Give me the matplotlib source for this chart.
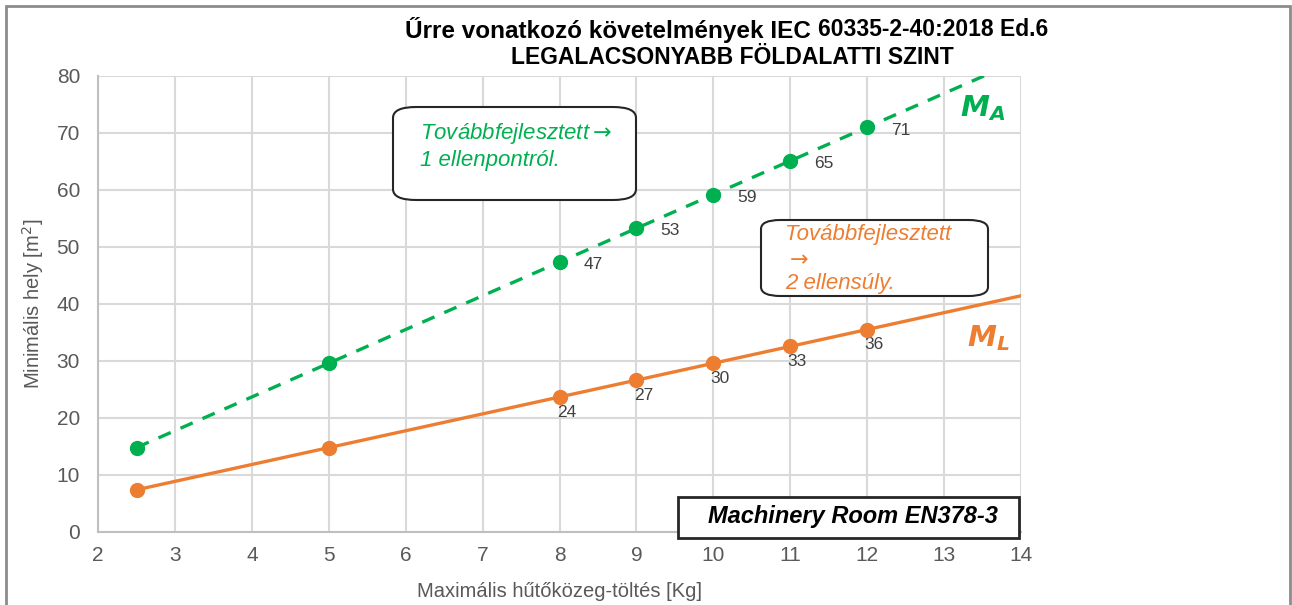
import numpy as np
import matplotlib
matplotlib.use("Agg")
import matplotlib.pyplot as plt
from matplotlib.patches import FancyBboxPatch, Rectangle

plt.rcParams['font.family'] = ['Liberation Sans', 'DejaVu Sans']

# charge [kg] and minimum room area [m2]
charge = [2.5, 5, 8, 9, 10, 11, 12]
area_ma = [14.8, 29.6, 47.4, 53.3, 59.2, 65.1, 71.0]   # M_A, dashed green
area_ml = [7.4, 14.8, 23.7, 26.6, 29.6, 32.6, 35.5]    # M_L, solid orange
labeled = [8, 9, 10, 11, 12]
xticks = list(range(2, 15))
yticks = list(range(0, 90, 10))

green = '#00B050'
orange = '#ED7D31'
gray_txt = '#595959'

fig = plt.figure(figsize=(12.92, 6.05), dpi=100)
ax = fig.add_axes([0.0759, 0.1207, 0.7144, 0.7537])

# trend lines extended to the end of the axis
x_ext = np.array([charge[0], 14])
pa = np.polyfit(charge, area_ma, 1)
pl = np.polyfit(charge, area_ml, 1)
ax.plot(x_ext, np.polyval(pa, x_ext), color=green, lw=2.4, ls=(0, (4, 3.2)), zorder=3)
ax.plot(x_ext, np.polyval(pl, x_ext), color=orange, lw=2.4, zorder=3)
ax.plot(charge, area_ma, 'o', color=green, ms=10, zorder=4)
ax.plot(charge, area_ml, 'o', color=orange, ms=10, zorder=4)

for x, ya, yl in zip(charge, area_ma, area_ml):
    if x in labeled:
        ax.annotate(f'{ya:.0f}', (x, ya), xytext=(24, -2), textcoords='offset points',
                    fontsize=12.5, color='#404040', va='center', ha='center')
        ax.annotate(f'{yl:.0f}', (x, yl), xytext=(5, -11), textcoords='offset points',
                    fontsize=12.5, color='#404040', va='center', ha='center')

ax.set_xlim(2, 14)
ax.set_ylim(0, 80)
ax.set_xticks(xticks)
ax.set_yticks(yticks)
ax.grid(True, color='#d9d9d9', lw=1.5)
ax.set_axisbelow(True)
for s in ['top', 'right']:
    ax.spines[s].set_visible(False)
for s in ['left', 'bottom']:
    ax.spines[s].set_color('#bfbfbf')
    ax.spines[s].set_linewidth(1.5)
ax.tick_params(length=0, labelsize=15, labelcolor=gray_txt)
ax.tick_params(axis='x', pad=10)
ax.tick_params(axis='y', pad=13)
ax.set_xlabel('Maximális hűtőközeg-töltés [Kg]', fontsize=14.5, color=gray_txt, labelpad=12)
ax.set_ylabel('Minimális hely [m$^2$]', fontsize=14.5, color=gray_txt, labelpad=8)

# title
split = 818 / 1292
fig.text(split, 1 - 30 / 605, 'Űrre vonatkozó követelmények IEC ', fontsize=17.5, fontweight='bold',
         ha='right', va='center')
fig.text(split, 1 - 30 / 605, '60335-2-40:2018 Ed.6', fontsize=16.5, fontweight='bold',
         ha='left', va='center')
fig.text(732 / 1292, 1 - 57 / 605, 'LEGALACSONYABB FÖLDALATTI SZINT', fontsize=16.5,
         fontweight='bold', ha='center', va='center')

# annotation boxes
b1 = FancyBboxPatch((393 / 1292, 1 - 200 / 605), 243 / 1292, 93 / 605,
                    boxstyle='round,pad=0,rounding_size=0.018', transform=fig.transFigure,
                    fc='white', ec='#262626', lw=1.5, zorder=5)
fig.add_artist(b1)
fig.text(420 / 1292, 1 - 146 / 605, 'Továbbfejlesztett$\\rightarrow$\n1 ellenpontról.', color=green,
         fontsize=16, style='italic', va='center', ha='left', linespacing=1.2, zorder=6)

b2 = FancyBboxPatch((761 / 1292, 1 - 296 / 605), 227 / 1292, 76 / 605,
                    boxstyle='round,pad=0,rounding_size=0.015', transform=fig.transFigure,
                    fc='white', ec='#262626', lw=1.5, zorder=5)
fig.add_artist(b2)
fig.text(785 / 1292, 1 - 259 / 605, 'Továbbfejlesztett\n$\\rightarrow$\n2 ellensúly.', color=orange,
         fontsize=16, style='italic', va='center', ha='left', linespacing=1.2, zorder=6)

# series names
fig.text(960 / 1292, 1 - 108 / 605, r'$\mathbfit{M}_{\mathbfit{A}}$', color=green,
         fontsize=21, ha='left', va='center')
fig.text(967 / 1292, 1 - 338 / 605, r'$\mathbfit{M}_{\mathbfit{L}}$', color=orange,
         fontsize=21, ha='left', va='center')

# machinery room box
r = Rectangle((678 / 1292, 1 - 538 / 605), 341 / 1292, 41 / 605, transform=fig.transFigure,
              fc='white', ec='#262626', lw=2, zorder=5)
fig.add_artist(r)
fig.text(853 / 1292, 1 - 517 / 605, 'Machinery Room EN378-3', fontsize=17,
         fontweight='bold', style='italic', ha='center', va='center', zorder=6)

# outer frame
frame = Rectangle((6 / 1292, -0.05), 1284 / 1292, 1.05 - 6 / 605, transform=fig.transFigure,
                  fill=False, ec='#8c8c8c', lw=2)
fig.add_artist(frame)

fig.savefig('out.png', dpi=100)
